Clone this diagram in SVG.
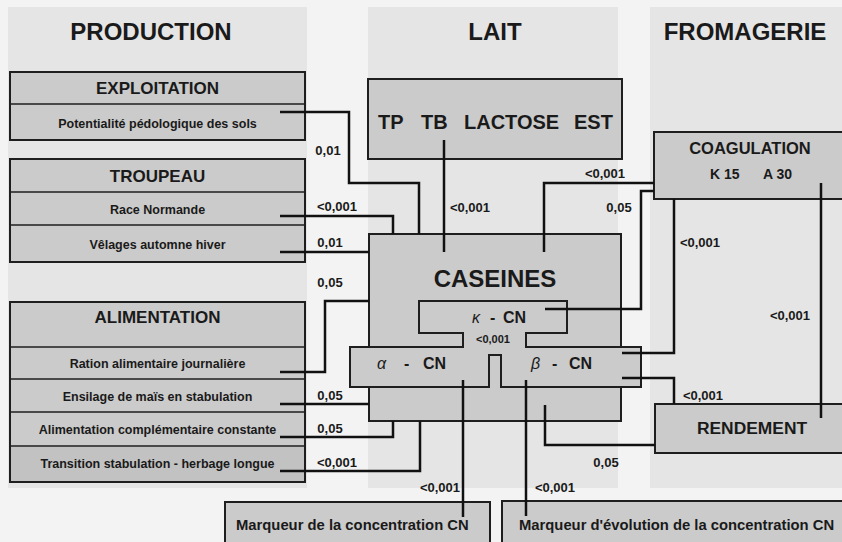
<svg xmlns="http://www.w3.org/2000/svg" width="842" height="542" viewBox="0 0 842 542">
<style>
text{font-family:"Liberation Sans",Arial,sans-serif;font-weight:bold;fill:#1a1a1a}
.box{fill:#cbcbcb;stroke:#1e1e1e;stroke-width:2}
.panel{fill:#e5e5e5}
.c{fill:none;stroke:#111;stroke-width:2.5}
.h1{font-size:24px;text-anchor:middle}
.h2{font-size:17px;text-anchor:middle}
.r{font-size:12.5px;text-anchor:middle}
.lb{font-size:13px;text-anchor:middle}
.mk{font-size:14.8px}
.g{font-style:italic;font-weight:normal}
</style>
<rect width="842" height="542" fill="#f3f3f3"/>
<g id="panels">
<rect class="panel" x="8" y="7" width="299" height="481"/>
<rect class="panel" x="368" y="7" width="250" height="481"/>
<rect class="panel" x="650" y="7" width="192" height="481"/>
</g>
<g id="headers">
<text class="h1" x="151" y="40">PRODUCTION</text>
<text class="h1" x="495" y="40">LAIT</text>
<text class="h1" x="745" y="40">FROMAGERIE</text>
</g>
<g id="exploitation">
<rect class="box" x="10" y="72" width="295" height="68"/>
<line x1="10" y1="104" x2="305" y2="104" stroke="#1e1e1e" stroke-width="1.5"/>
<text class="h2" x="157.5" y="94">EXPLOITATION</text>
<text class="r" x="157.5" y="128">Potentialité pédologique des sols</text>
</g>
<g id="troupeau">
<rect class="box" x="10" y="159" width="295" height="103"/>
<line x1="10" y1="192" x2="305" y2="192" stroke="#1e1e1e" stroke-width="1.5"/>
<line x1="10" y1="225" x2="305" y2="225" stroke="#1e1e1e" stroke-width="1.5"/>
<text class="h2" x="157.5" y="182">TROUPEAU</text>
<text class="r" x="157.5" y="214">Race Normande</text>
<text class="r" x="157.5" y="249">Vêlages automne hiver</text>
</g>
<g id="alimentation">
<rect class="box" x="10" y="302" width="295" height="180"/>
<rect x="11" y="447" width="293" height="34" fill="#c2c2c2"/>
<line x1="10" y1="347" x2="305" y2="347" stroke="#1e1e1e" stroke-width="1.5"/>
<line x1="10" y1="379" x2="305" y2="379" stroke="#1e1e1e" stroke-width="1.5"/>
<line x1="10" y1="412" x2="305" y2="412" stroke="#1e1e1e" stroke-width="1.5"/>
<line x1="10" y1="446" x2="305" y2="446" stroke="#1e1e1e" stroke-width="1.5"/>
<text class="h2" x="157.5" y="323">ALIMENTATION</text>
<text class="r" x="157.5" y="368">Ration alimentaire journalière</text>
<text class="r" x="157.5" y="401">Ensilage de maïs en stabulation</text>
<text class="r" x="157.5" y="434">Alimentation complémentaire constante</text>
<text class="r" x="157.5" y="468">Transition stabulation - herbage longue</text>
</g>
<g id="lait">
<rect class="box" x="368" y="79" width="254" height="80" fill="#d3d3d3"/>
<text x="378" y="129" font-size="20">TP</text>
<text x="421" y="129" font-size="20">TB</text>
<text x="464" y="129" font-size="20">LACTOSE</text>
<text x="574" y="129" font-size="20">EST</text>
</g>
<g id="caseines">
<rect class="box" x="369" y="234" width="252" height="187"/>
<text class="h1" x="495" y="287">CASEINES</text>
</g>
<g id="cn">
<polygon class="box" fill="#d2d2d2" points="419,301 567,301 567,333 526,333 526,347 641,347 641,387 501,387 501,355 489,355 489,387 350,387 350,347 463,347 463,333 419,333"/>
<text y="323" font-size="16"><tspan class="g" x="472">κ</tspan><tspan x="490">-</tspan><tspan x="503">CN</tspan></text>
<text x="493" y="343" font-size="11" text-anchor="middle">&lt;0,001</text>
<text y="369" font-size="16"><tspan class="g" x="377">α</tspan><tspan x="404">-</tspan><tspan x="423">CN</tspan></text>
<text y="369" font-size="16"><tspan class="g" x="531">β</tspan><tspan x="552">-</tspan><tspan x="569">CN</tspan></text>
</g>
<g id="coagulation">
<rect class="box" x="654" y="132" width="200" height="67"/>
<text x="750" y="154" font-size="16.5" text-anchor="middle">COAGULATION</text>
<text x="710" y="179" font-size="14">K 15</text>
<text x="763" y="179" font-size="14">A 30</text>
</g>
<g id="rendement">
<rect class="box" x="655" y="404" width="200" height="49"/>
<text x="752" y="434" font-size="17.4" text-anchor="middle">RENDEMENT</text>
</g>
<g id="marqueur1">
<rect class="box" x="225" y="502" width="265" height="50"/>
<text class="mk" x="236" y="530">Marqueur de la concentration CN</text>
</g>
<g id="marqueur2">
<rect class="box" x="502" y="501" width="360" height="50"/>
<text class="mk" x="519" y="530">Marqueur d'évolution de la concentration CN</text>
</g>
<g id="connectors">
<path class="c" d="M280,112 H349 V183 H419 V234"/>
<path class="c" d="M280,216 H393 V234"/>
<path class="c" d="M280,252 H369"/>
<path class="c" d="M280,372 H325 V301 H369"/>
<path class="c" d="M280,404 H369"/>
<path class="c" d="M280,437 H393 V421"/>
<path class="c" d="M280,471 H420 V421"/>
<path class="c" d="M444,140 V252"/>
<path class="c" d="M544,252 V183 H654"/>
<path class="c" d="M545,309 H641 V191 H654"/>
<path class="c" d="M622,353 H674 V199"/>
<path class="c" d="M622,378 H674 V404"/>
<path class="c" d="M545,405 V445 H655"/>
<path class="c" d="M821,183 V418"/>
<path class="c" d="M463,380 V517"/>
<path class="c" d="M526,380 V516"/>
</g>
<g id="labels">
<text class="lb" x="328" y="155">0,01</text>
<text class="lb" x="337" y="211">&lt;0,001</text>
<text class="lb" x="330" y="247">0,01</text>
<text class="lb" x="330" y="287">0,05</text>
<text class="lb" x="330" y="400">0,05</text>
<text class="lb" x="330" y="433">0,05</text>
<text class="lb" x="337" y="467">&lt;0,001</text>
<text class="lb" x="470" y="212">&lt;0,001</text>
<text class="lb" x="605" y="178">&lt;0,001</text>
<text class="lb" x="619" y="212">0,05</text>
<text class="lb" x="700" y="247">&lt;0,001</text>
<text class="lb" x="790" y="320">&lt;0,001</text>
<text class="lb" x="703" y="400">&lt;0,001</text>
<text class="lb" x="606" y="467">0,05</text>
<text class="lb" x="440" y="492">&lt;0,001</text>
<text class="lb" x="555" y="492">&lt;0,001</text>
</g>
</svg>
